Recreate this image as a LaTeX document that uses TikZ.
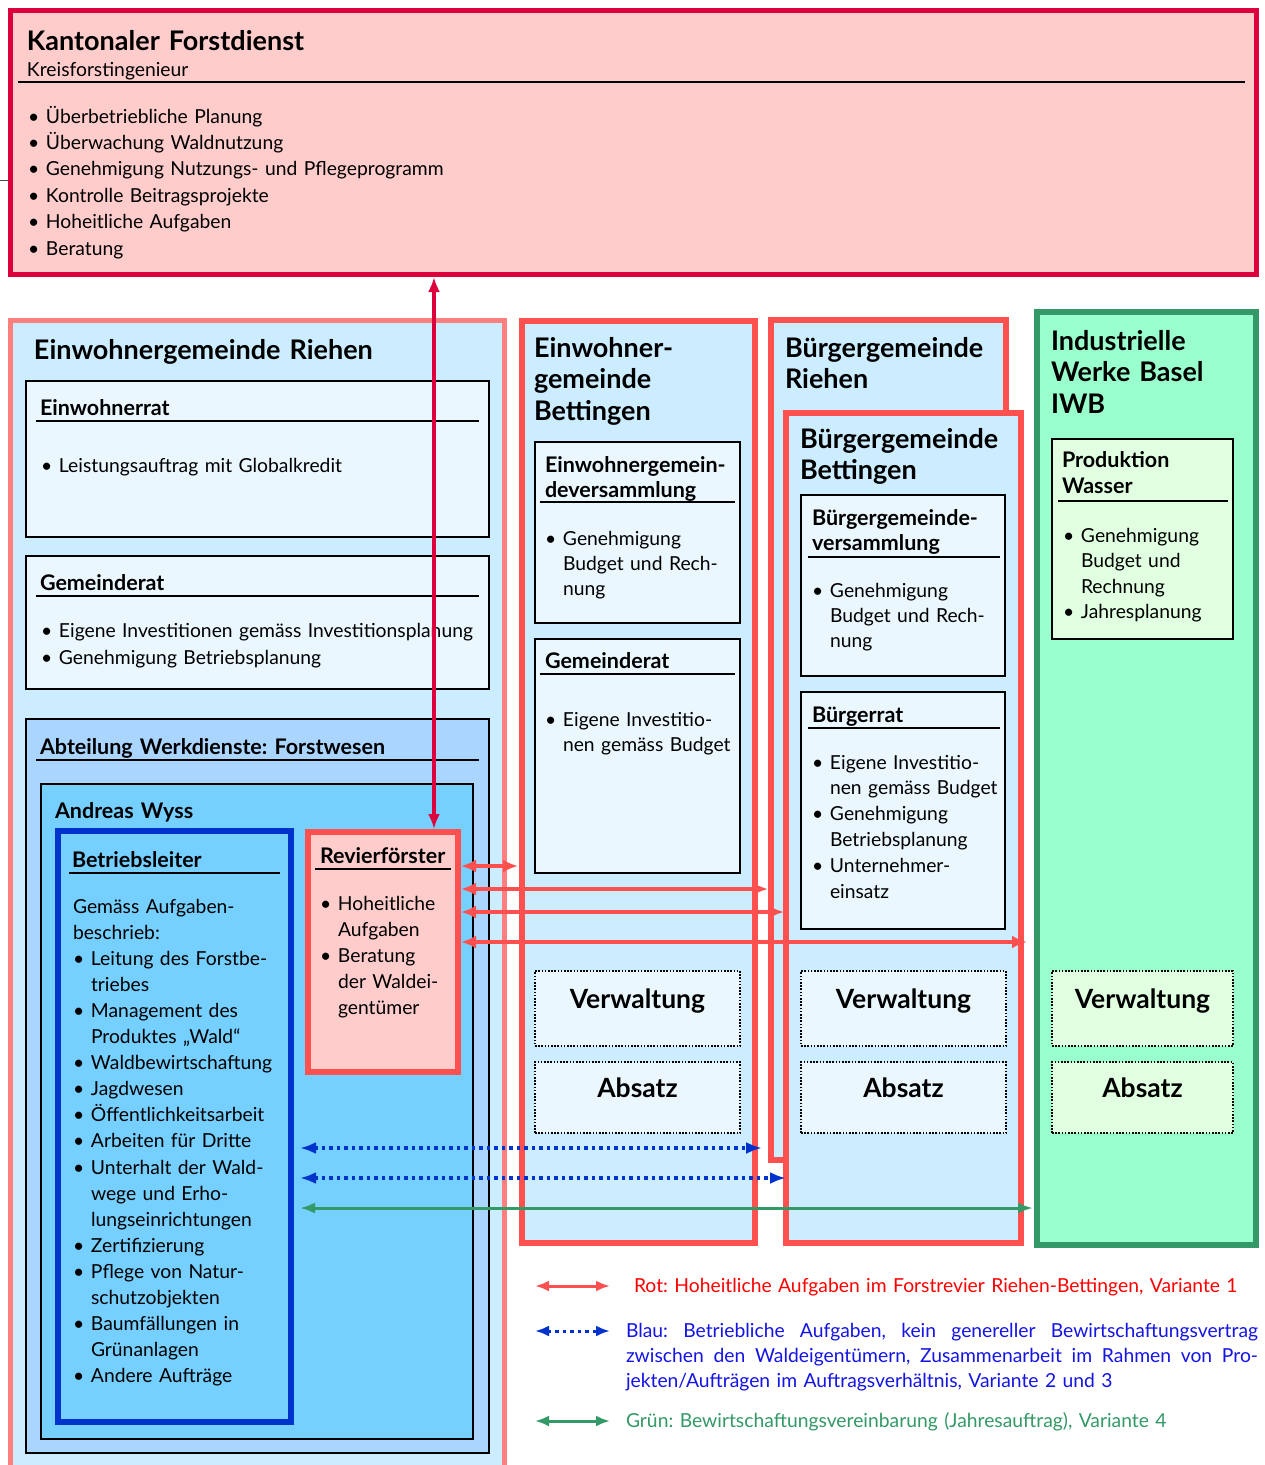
\documentclass[tikz,border=0pt]{standalone}
\usepackage{fontspec}
\setmainfont{Lato}
\usetikzlibrary{arrows.meta,calc}
\frenchspacing
\definecolor{crim}{HTML}{DC003C}
\definecolor{salm}{HTML}{FF7F7F}
\definecolor{redb}{HTML}{FF5050}
\definecolor{pinkf}{HTML}{FFCCCC}
\definecolor{lblue}{HTML}{CCECFF}
\definecolor{pblue}{HTML}{EBF7FF}
\definecolor{ablue}{HTML}{AAD5FF}
\definecolor{sblue}{HTML}{75CFFF}
\definecolor{bblue}{HTML}{0033CC}
\definecolor{grn}{HTML}{339966}
\definecolor{mint}{HTML}{99FFCC}
\definecolor{pgreen}{HTML}{E1FFE1}
\definecolor{legred}{HTML}{FF0000}
\definecolor{legblue}{HTML}{1414E6}
\newcommand\bul{\makebox[18pt][l]{\textbullet}}
\newcommand\ind{\hspace*{18pt}}
\newcommand\jline[1]{\makebox[632pt][s]{\spaceskip=0pt\xspaceskip=0pt\relax #1}}
\newcommand\mybox[6]{\node[#1,anchor=north west,minimum width={(#4-#2)*1pt},minimum height={(#5-#3)*1pt}] (#6) at (#2,#3) {};}
\begin{document}
\frenchspacing
\begin{tikzpicture}[x=1pt,y=-1pt,
  every node/.style={inner sep=0pt,outer sep=0pt},
  kbox/.style={draw=crim,line width=5pt,fill=pinkf},
  lcol/.style={draw=salm,line width=5pt,fill=lblue},
  rcol/.style={draw=redb,line width=6pt,fill=lblue},
  ibox/.style={draw=black,line width=1.8pt,fill=pblue},
  abox/.style={draw=black,line width=1.8pt,fill=ablue},
  wbox/.style={draw=black,line width=1.8pt,fill=sblue},
  bbox/.style={draw=bblue,line width=6pt,fill=sblue},
  rbox/.style={draw=redb,line width=6pt,fill=pinkf},
  dbox/.style={draw=black,line width=1.6pt,dash pattern=on 1.6pt off 1.6pt,fill=pblue},
  gcol/.style={draw=grn,line width=6pt,fill=mint},
  gibox/.style={ibox,fill=pgreen},
  gdbox/.style={dbox,fill=pgreen},
  tx/.style={anchor=base west,align=left,text width=700pt},
  ttl/.style={tx,font=\fontsize{27}{31.5}\selectfont\bfseries},
  sub/.style={tx,font=\fontsize{21.5}{25.5}\selectfont\bfseries},
  bod/.style={tx,font=\fontsize{19.3}{26}\selectfont},
  vtx/.style={anchor=base,font=\fontsize{26.5}{30}\selectfont\bfseries},
  uline/.style={line width=1.6pt},
  redarr/.style={draw=redb,line width=3.5pt,<->,>={Latex[length=15pt,width=13pt]}},
  crarr/.style={draw=crim,line width=3.5pt,<->,>={Latex[length=15pt,width=12pt]}},
  bluearr/.style={draw=bblue,line width=3.5pt,dash pattern=on 3.5pt off 4pt,<->,>={Latex[length=16pt,width=12pt]}},
  grnarr/.style={draw=grn,line width=3pt,<->,>={Latex[length=15pt,width=11pt]}}
]
\useasboundingbox (0,0) rectangle (1265,1465);
\fill[white] (0,0) rectangle (1265,1465);
% top box
\mybox{kbox}{10}{10}{1256}{274}{kfd}
\draw[line width=1pt,black!70] (0,180) -- (8,180);
\node[ttl] (kfdT) at (27,50) {Kantonaler Forstdienst};
\node[bod] (kfdS) at (27,76) {Kreisforstingenieur};
\draw[uline] (18,82) -- (1245,82);
\node[bod,font=\fontsize{19.3}{26.4}\selectfont] (kfdL) at (28,123) {\bul Überbetriebliche Planung\\\bul Überwachung Waldnutzung\\\bul Genehmigung Nutzungs- und Pflegeprogramm\\\bul Kontrolle Beitragsprojekte\\\bul Hoheitliche Aufgaben\\\bul Beratung};
% boxes
\mybox{lcol}{10}{320}{504}{1480}{egr}
\mybox{ibox}{26}{381}{489}{537}{ewr}
\mybox{ibox}{26}{556}{489}{689}{gr1}
\mybox{abox}{26}{719}{489}{1453}{abt}
\mybox{wbox}{41}{784}{473}{1439}{aw}
\mybox{bbox}{58}{831}{291}{1422}{betr}
\mybox{rbox}{308}{832}{458}{1072}{revier}
\mybox{rcol}{522}{321}{755}{1243}{egb}
\mybox{ibox}{535}{442}{740}{623}{egv}
\mybox{ibox}{535}{639}{740}{873}{gr2}
\mybox{dbox}{535}{971}{740}{1046}{vw1}
\mybox{dbox}{535}{1062}{740}{1133}{ab1}
\mybox{rcol}{771}{320}{1006}{1160}{bgr}
\mybox{rcol}{786}{413}{1021}{1243}{bgb}
\mybox{ibox}{801}{495}{1005}{676}{bgv}
\mybox{ibox}{801}{692}{1005}{929}{br}
\mybox{dbox}{801}{971}{1006}{1046}{vw2}
\mybox{dbox}{801}{1062}{1006}{1133}{ab2}
\mybox{gcol}{1037}{312}{1256}{1245}{iwb}
\mybox{gibox}{1052}{439}{1233}{639}{pw}
\mybox{gdbox}{1052}{971}{1233}{1046}{vw3}
\mybox{gdbox}{1052}{1062}{1233}{1133}{ab3}
% left column texts
\node[ttl] (egrT) at (34,359) {Einwohnergemeinde Riehen};
\node[sub] (ewrT) at (40,415) {Einwohnerrat};
\draw[uline] (36,421) -- (479,421);
\node[bod] (ewrL) at (41,472) {\bul Leistungsauftrag mit Globalkredit};
\node[sub] (gr1T) at (40,590) {Gemeinderat};
\draw[uline] (36,596) -- (479,596);
\node[bod,font=\fontsize{19.3}{27}\selectfont] (gr1L) at (41,637) {\bul Eigene Investitionen gemäss Investitionsplanung\\\bul Genehmigung Betriebsplanung};
\node[sub] (abtT) at (40,754) {Abteilung Werkdienste: Forstwesen};
\draw[uline] (36,760) -- (479,760);
\node[sub] (awT) at (55,818) {Andreas Wyss};
\node[sub] (betrT) at (72,867) {Betriebsleiter};
\draw[uline] (69,873) -- (280,873);
\node[bod,font=\fontsize{19.3}{26.1}\selectfont] (betrL) at (73,913) {Gemäss Aufgaben-\\beschrieb:\\\bul Leitung des Forstbe-\\\ind triebes\\\bul Management des\\\ind Produktes „Wald“\\\bul Waldbewirtschaftung\\\bul Jagdwesen\\\bul Öffentlichkeitsarbeit\\\bul Arbeiten für Dritte\\\bul Unterhalt der Wald-\\\ind wege und Erho-\\\ind lungseinrichtungen\\\bul Zertifizierung\\\bul Pflege von Natur-\\\ind schutzobjekten\\\bul Baumfällungen in\\\ind Grünanlagen\\\bul Andere Aufträge};
\node[sub] (revT) at (320,863) {Revierförster};
\draw[uline] (315,869) -- (451,869);
\node[bod] (revL) at (320,910) {\bul Hoheitliche\\\ind Aufgaben\\\bul Beratung\\\ind der Waldei-\\\ind gentümer};
% column 2
\node[ttl] (egbT) at (534,357) {Einwohner-\\gemeinde\\Bettingen};
\node[sub,font=\fontsize{21.5}{25}\selectfont\bfseries] (egvT) at (545,472) {Einwohnergemein-\\deversammlung};
\draw[uline] (540,502) -- (735,502);
\node[bod,font=\fontsize{19.3}{25}\selectfont] (egvL) at (545,545) {\bul Genehmigung\\\ind Budget und Rech-\\\ind nung};
\node[sub] (gr2T) at (545,668) {Gemeinderat};
\draw[uline] (540,674) -- (735,674);
\node[bod,font=\fontsize{19.3}{25.5}\selectfont] (gr2L) at (545,726) {\bul Eigene Investitio-\\\ind nen gemäss Budget};
\node[vtx] (vw1t) at (vw1.center) {Verwaltung};
\node[vtx] (ab1t) at (ab1.center) {Absatz};
% column 3
\node[ttl] (bgrT) at (785,357) {Bürgergemeinde\\Riehen};
\node[ttl] (bgbT) at (800,448) {Bürgergemeinde\\Bettingen};
\node[sub,font=\fontsize{21.5}{25}\selectfont\bfseries] (bgvT) at (812,525) {Bürgergemeinde-\\versammlung};
\draw[uline] (808,557) -- (1000,557);
\node[bod,font=\fontsize{19.3}{25}\selectfont] (bgvL) at (812,597) {\bul Genehmigung\\\ind Budget und Rech-\\\ind nung};
\node[sub] (brT) at (812,722) {Bürgerrat};
\draw[uline] (808,728) -- (1000,728);
\node[bod,font=\fontsize{19.3}{25.8}\selectfont] (brL) at (812,769) {\bul Eigene Investitio-\\\ind nen gemäss Budget\\\bul Genehmigung\\\ind Betriebsplanung\\\bul Unternehmer-\\\ind einsatz};
\node[vtx] (vw2t) at (vw2.center) {Verwaltung};
\node[vtx] (ab2t) at (ab2.center) {Absatz};
% column 4
\node[ttl] (iwbT) at (1051,350) {Industrielle\\Werke Basel\\IWB};
\node[sub,font=\fontsize{21.5}{26}\selectfont\bfseries] (pwT) at (1062,467) {Produktion\\Wasser};
\draw[uline] (1058,501) -- (1228,501);
\node[bod,font=\fontsize{19.3}{25.5}\selectfont] (pwL) at (1063,542) {\bul Genehmigung\\\ind Budget und\\\ind Rechnung\\\bul Jahresplanung};
\node[vtx] (vw3t) at (vw3.center) {Verwaltung};
\node[vtx] (ab3t) at (ab3.center) {Absatz};
% connectors
\coordinate (vx) at (434,0);
\draw[crarr] ($(kfd.south -| vx)+(0,3)$) -- ($(revier.north -| vx)+(0,-3)$);
\coordinate (r1) at (0,866);
\coordinate (r2) at (0,889);
\coordinate (r3) at (0,912);
\coordinate (r4) at (0,942);
\draw[redarr] ($(revier.east |- r1)+(3,0)$) -- ($(egb.west |- r1)+(-4,0)$);
\draw[redarr] ($(revier.east |- r2)+(3,0)$) -- ($(bgr.west |- r2)+(-3,0)$);
\draw[redarr] ($(revier.east |- r3)+(3,0)$) -- ($(bgb.west |- r3)+(-2,0)$);
\draw[redarr] ($(revier.east |- r4)+(3,0)$) -- ($(bgb.east |- r4)+(6,0)$);
\coordinate (b1) at (0,1148);
\coordinate (b2) at (0,1178);
\coordinate (g1) at (0,1208);
\draw[bluearr] ($(betr.east |- b1)+(9,0)$) -- ($(egb.east |- b1)+(7,0)$);
\draw[bluearr] ($(betr.east |- b2)+(9,0)$) -- (bgb.west |- b2);
\draw[grnarr] ($(betr.east |- g1)+(9,0)$) -- ($(iwb.west |- g1)+(-4,0)$);
% legend
\coordinate (la1) at (535,1286);
\coordinate (la2) at (610,1286);
\coordinate (lb1) at (535,1331);
\coordinate (lb2) at (610,1331);
\coordinate (lc1) at (535,1421);
\coordinate (lc2) at (610,1421);
\draw[redarr,line width=3pt,>={Latex[length=14pt,width=11pt]}] (la1) -- (la2);
\draw[bluearr,line width=3pt,>={Latex[length=14pt,width=11pt]}] (lb1) -- (lb2);
\draw[grnarr,>={Latex[length=14pt,width=11pt]}] (lc1) -- (lc2);
\node[bod,text=legred] (legR) at (634,1292) {Rot: Hoheitliche Aufgaben im Forstrevier Riehen-Bettingen, Variante 1};
\node[bod,font=\fontsize{19.3}{25}\selectfont,text=legblue,text width=640pt] (legB) at (626,1337) {\jline{Blau: Betriebliche Aufgaben, kein genereller Bewirtschaftungsvertrag}\\\jline{zwischen den Waldeigentümern, Zusammenarbeit im Rahmen von Pro-}\\jekten/Aufträgen im Auftragsverhältnis, Variante 2 und 3};
\node[bod,text=grn] (legG) at (626,1427) {Grün: Bewirtschaftungsvereinbarung (Jahresauftrag), Variante 4};
\end{tikzpicture}
\end{document}
